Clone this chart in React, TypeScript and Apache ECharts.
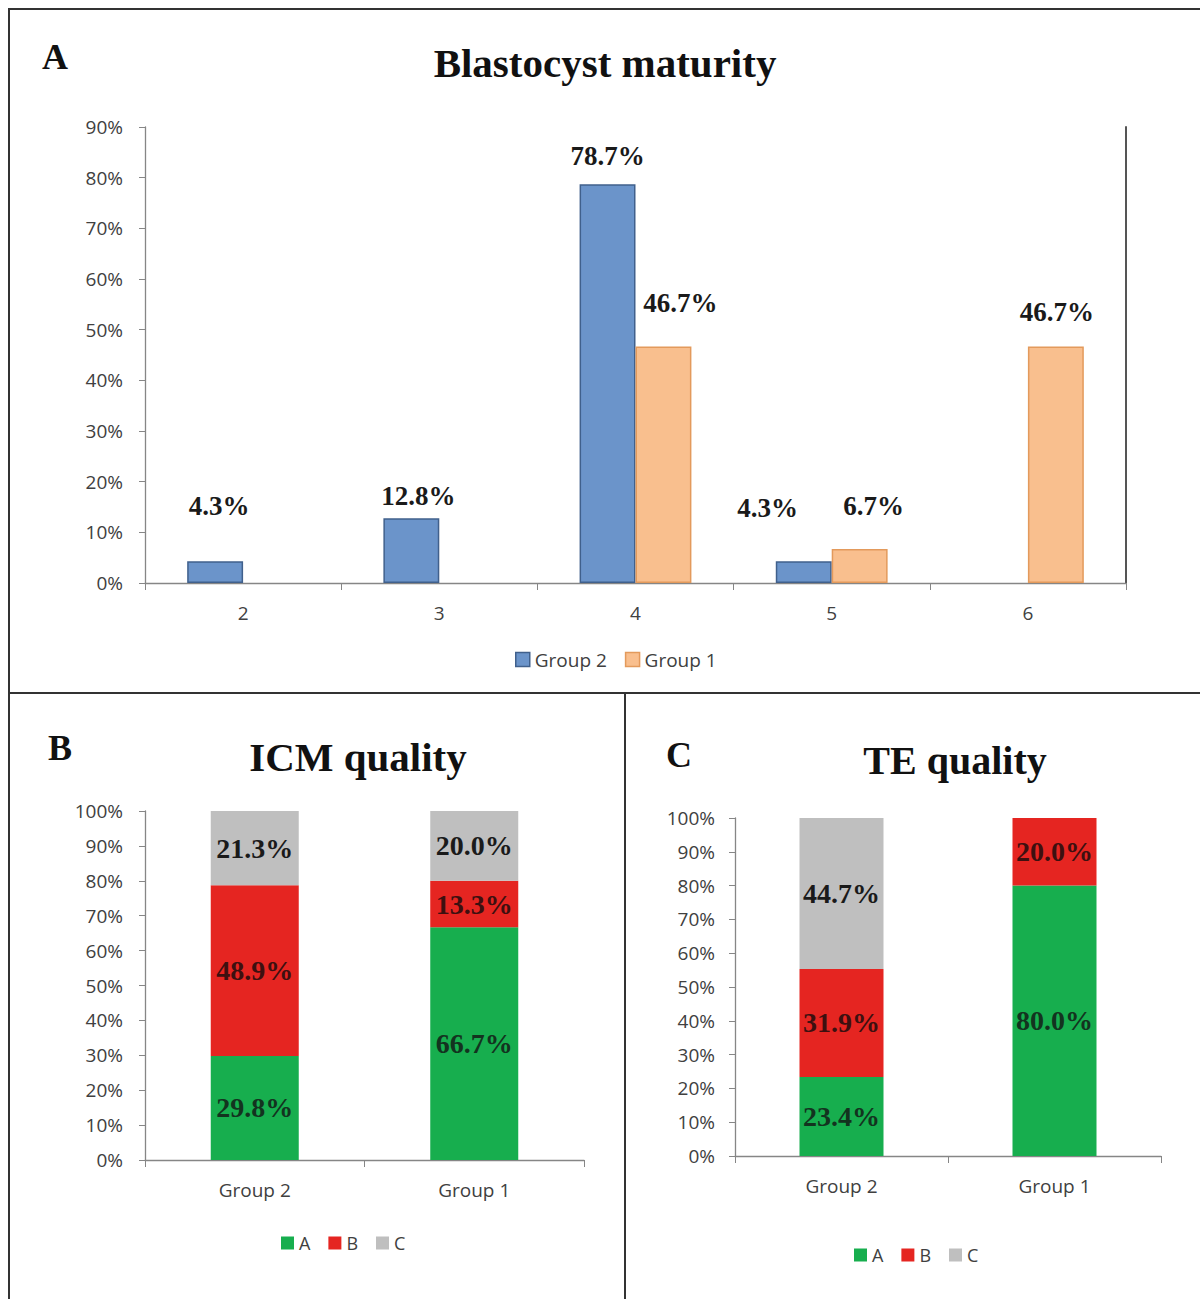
import React, { useEffect, useRef } from "react";
import * as echarts from "echarts";

// Panel A data
const maturityCategories = ["2", "3", "4", "5", "6"];
const maturityGroup2 = [4.3, 12.8, 78.7, 4.3, null];
const maturityGroup1 = [null, null, 46.7, 6.7, 46.7];
const maturityTicks = [0, 10, 20, 30, 40, 50, 60, 70, 80, 90];
// label nudges (dx, dy) matching the hand-placed labels in the reference
const group2LabelNudge = [[4, -37], [7, -4], [0, -10], [-36, -35], [0, 0]];
const group1LabelNudge = [[0, 0], [0, 0], [17, -25], [14, -25], [1, -16]];

// Panel B / C data
const qualityGroups = ["Group 2", "Group 1"];
const icmA = [29.8, 66.7];
const icmB = [48.9, 13.3];
const icmC = [21.3, 20.0];
const teA = [23.4, 80.0];
const teB = [31.9, 20.0];
const teC = [44.7, null];

const BLUE = "#6b94ca";
const BLUE_BORDER = "#40608c";
const ORANGE = "#f9bf8e";
const ORANGE_BORDER = "#e39a5c";
const GREEN = "#17ae4e";
const RED = "#e52521";
const GRAY = "#bfbfbf";
const SERIF = "'Liberation Serif', 'Times New Roman', serif";
const SANS = "'Open Sans', 'Liberation Sans', sans-serif";

export default function App() {
  const ref = useRef<HTMLDivElement>(null);

  useEffect(() => {
    if (!ref.current) return;
    const chart = echarts.init(ref.current, null, { renderer: "svg" });

    const pct = (p: any) => (p.value == null ? "" : Number(p.value).toFixed(1) + "%");

    const axisLabelStyle = { color: "#404040", fontSize: 19, fontFamily: SANS };
    const axisLineStyle = { lineStyle: { color: "#868686", width: 1.3 } };

    const valueAxis = (gridIndex: number, max: number, margin: number) => ({
      type: "value",
      gridIndex,
      min: 0,
      max,
      interval: 10,
      axisLine: { show: true, ...axisLineStyle },
      axisTick: { show: true, length: 6, lineStyle: { color: "#868686" } },
      splitLine: { show: false },
      axisLabel: { ...axisLabelStyle, margin, formatter: "{value}%" },
    });

    const catAxis = (gridIndex: number, data: string[], margin: number) => ({
      type: "category",
      gridIndex,
      data,
      axisLine: { show: true, ...axisLineStyle },
      axisTick: { show: true, length: 7, lineStyle: { color: "#868686" } },
      axisLabel: { ...axisLabelStyle, margin },
    });

    const stackLabel = (color: string) => ({
      show: true,
      position: "inside",
      formatter: pct,
      fontFamily: SERIF,
      fontWeight: "bold",
      fontSize: 28,
      color,
    });

    const stacked = (name: string, data: (number | null)[], gridIdx: number, color: string, labelColor: string, stack: string, barWidth: number) => ({
      name,
      type: "bar",
      xAxisIndex: gridIdx,
      yAxisIndex: gridIdx === 0 ? 0 : gridIdx + 1,
      stack,
      data,
      barWidth,
      itemStyle: { color },
      label: stackLabel(labelColor),
    });

    const aLabel = {
      show: true,
      position: "top",
      formatter: pct,
      fontFamily: SERIF,
      fontWeight: "bold",
      fontSize: 27,
      color: "#1a1a1a",
    };

    const option: any = {
      animation: false,
      backgroundColor: "#ffffff",
      graphic: [
        { type: "rect", shape: { x: 9, y: 9, width: 1200, height: 1300 }, style: { fill: "none", stroke: "#333", lineWidth: 2 } },
        { type: "line", shape: { x1: 9, y1: 693, x2: 1200, y2: 693 }, style: { stroke: "#333", lineWidth: 2 } },
        { type: "line", shape: { x1: 625, y1: 693, x2: 625, y2: 1299 }, style: { stroke: "#333", lineWidth: 2 } },
        { type: "text", x: 55, y: 57, style: { text: "A", font: `bold 36px ${SERIF}`, fill: "#111", align: "center", verticalAlign: "middle" } },
        { type: "text", x: 605, y: 63, style: { text: "Blastocyst maturity", font: `bold 41px ${SERIF}`, fill: "#111", align: "center", verticalAlign: "middle" } },
        { type: "text", x: 60, y: 748, style: { text: "B", font: `bold 36px ${SERIF}`, fill: "#111", align: "center", verticalAlign: "middle" } },
        { type: "text", x: 358, y: 757, style: { text: "ICM quality", font: `bold 41px ${SERIF}`, fill: "#111", align: "center", verticalAlign: "middle" } },
        { type: "text", x: 679, y: 755, style: { text: "C", font: `bold 36px ${SERIF}`, fill: "#111", align: "center", verticalAlign: "middle" } },
        { type: "text", x: 955, y: 760, style: { text: "TE quality", font: `bold 40px ${SERIF}`, fill: "#111", align: "center", verticalAlign: "middle" } },
      ],
      grid: [
        { left: 145, top: 127, width: 981, height: 456 },
        { left: 145, top: 811, width: 439, height: 349 },
        { left: 735, top: 818, width: 426, height: 338 },
      ],
      xAxis: [
        catAxis(0, maturityCategories, 20),
        catAxis(1, qualityGroups, 20),
        catAxis(2, qualityGroups, 20),
      ],
      yAxis: [
        valueAxis(0, maturityTicks[maturityTicks.length - 1], 22),
        {
          type: "value",
          gridIndex: 0,
          position: "right",
          min: 0,
          max: maturityTicks[maturityTicks.length - 1],
          axisLine: { show: true, lineStyle: { color: "#555", width: 2 } },
          axisTick: { show: false },
          axisLabel: { show: false },
          splitLine: { show: false },
        },
        valueAxis(1, 100, 22),
        valueAxis(2, 100, 20),
      ],
      legend: [
        {
          data: [
            { name: "Group 2", itemStyle: { color: BLUE, borderColor: BLUE_BORDER, borderWidth: 1.5 } },
            { name: "Group 1", itemStyle: { color: ORANGE, borderColor: ORANGE_BORDER, borderWidth: 1.5 } },
          ],
          left: 510,
          top: 645,
          itemWidth: 14,
          itemHeight: 14,
          itemGap: 18,
          icon: "rect",
          textStyle: { fontSize: 19, color: "#404040", fontFamily: SANS },
        },
        {
          data: ["A", "B", "C"],
          left: 276,
          top: 1229,
          itemWidth: 13,
          itemHeight: 13,
          itemGap: 18,
          icon: "rect",
          textStyle: { fontSize: 18, color: "#404040", fontFamily: SANS },
        },
        {
          data: ["A", "B", "C"],
          left: 849,
          top: 1241,
          itemWidth: 13,
          itemHeight: 13,
          itemGap: 18,
          icon: "rect",
          textStyle: { fontSize: 18, color: "#404040", fontFamily: SANS },
        },
      ],
      series: [
        {
          name: "Group 2",
          type: "bar",
          xAxisIndex: 0,
          yAxisIndex: 0,
          barGap: "0%",
          barCategoryGap: "43%",
          data: maturityGroup2.map((v, i) => ({
            value: v,
            label: { offset: group2LabelNudge[i] },
          })),
          itemStyle: { color: BLUE, borderColor: BLUE_BORDER, borderWidth: 1.5 },
          label: aLabel,
        },
        {
          name: "Group 1",
          type: "bar",
          xAxisIndex: 0,
          yAxisIndex: 0,
          barGap: "0%",
          barCategoryGap: "43%",
          data: maturityGroup1.map((v, i) => ({
            value: v,
            label: { offset: group1LabelNudge[i] },
          })),
          itemStyle: { color: ORANGE, borderColor: ORANGE_BORDER, borderWidth: 1.5 },
          label: aLabel,
        },
        stacked("A", icmA, 1, GREEN, "#13331f", "icm", 88),
        stacked("B", icmB, 1, RED, "#3d1010", "icm", 88),
        stacked("C", icmC, 1, GRAY, "#1a1a1a", "icm", 88),
        stacked("A", teA, 2, GREEN, "#13331f", "te", 84),
        stacked("B", teB, 2, RED, "#3d1010", "te", 84),
        stacked("C", teC, 2, GRAY, "#1a1a1a", "te", 84),
      ],
    };

    chart.setOption(option);
    return () => chart.dispose();
  }, []);

  return (
    <div
      ref={ref}
      style={{ position: "absolute", left: 0, top: 0, width: 1200, height: 1299 }}
    />
  );
}
